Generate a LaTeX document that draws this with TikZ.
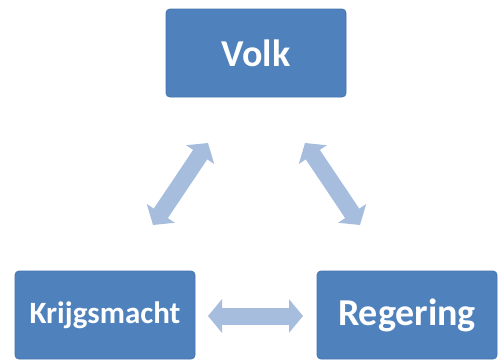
\documentclass[tikz,border=0pt]{standalone}
\usepackage{fontspec}
\setmainfont{Carlito}
\usetikzlibrary{arrows.meta}
\definecolor{boxblue}{HTML}{4F81BD}
\definecolor{boxedge}{HTML}{4574B0}
\definecolor{arrowblue}{HTML}{A7BDDD}
\tikzset{
  blk/.style={draw=boxedge, line width=0.8pt, fill=boxblue, rounded corners=4pt,
    minimum width=180pt, minimum height=88pt, inner sep=0pt,
    text=white, font=\bfseries},
  fat/.style={draw=arrowblue, line width=17pt,
    {Triangle[width=33pt,length=14pt]}-{Triangle[width=33pt,length=14pt]}}
}
\begin{document}
\begin{tikzpicture}[x=1pt,y=-1pt]
\useasboundingbox (0,0) rectangle (502,359);
\node[blk, font=\fontsize{38}{40}\bfseries] (volk) at (256,53) {Volk};
\node[blk, font=\fontsize{31}{33}\bfseries] (krijg) at (105,315) {Krijgsmacht};
\node[blk, font=\fontsize{38}{40}\bfseries] (reg) at (407,315) {Regering};
\coordinate (l1) at (208,143);
\coordinate (l2) at (153,225);
\coordinate (r1) at (305,143);
\coordinate (r2) at (360,225);
\coordinate (h1) at (208,316);
\coordinate (h2) at (303,316);
\draw[fat] (l1) -- (l2);
\draw[fat] (r1) -- (r2);
\draw[fat] (h1) -- (h2);
\end{tikzpicture}
\end{document}
